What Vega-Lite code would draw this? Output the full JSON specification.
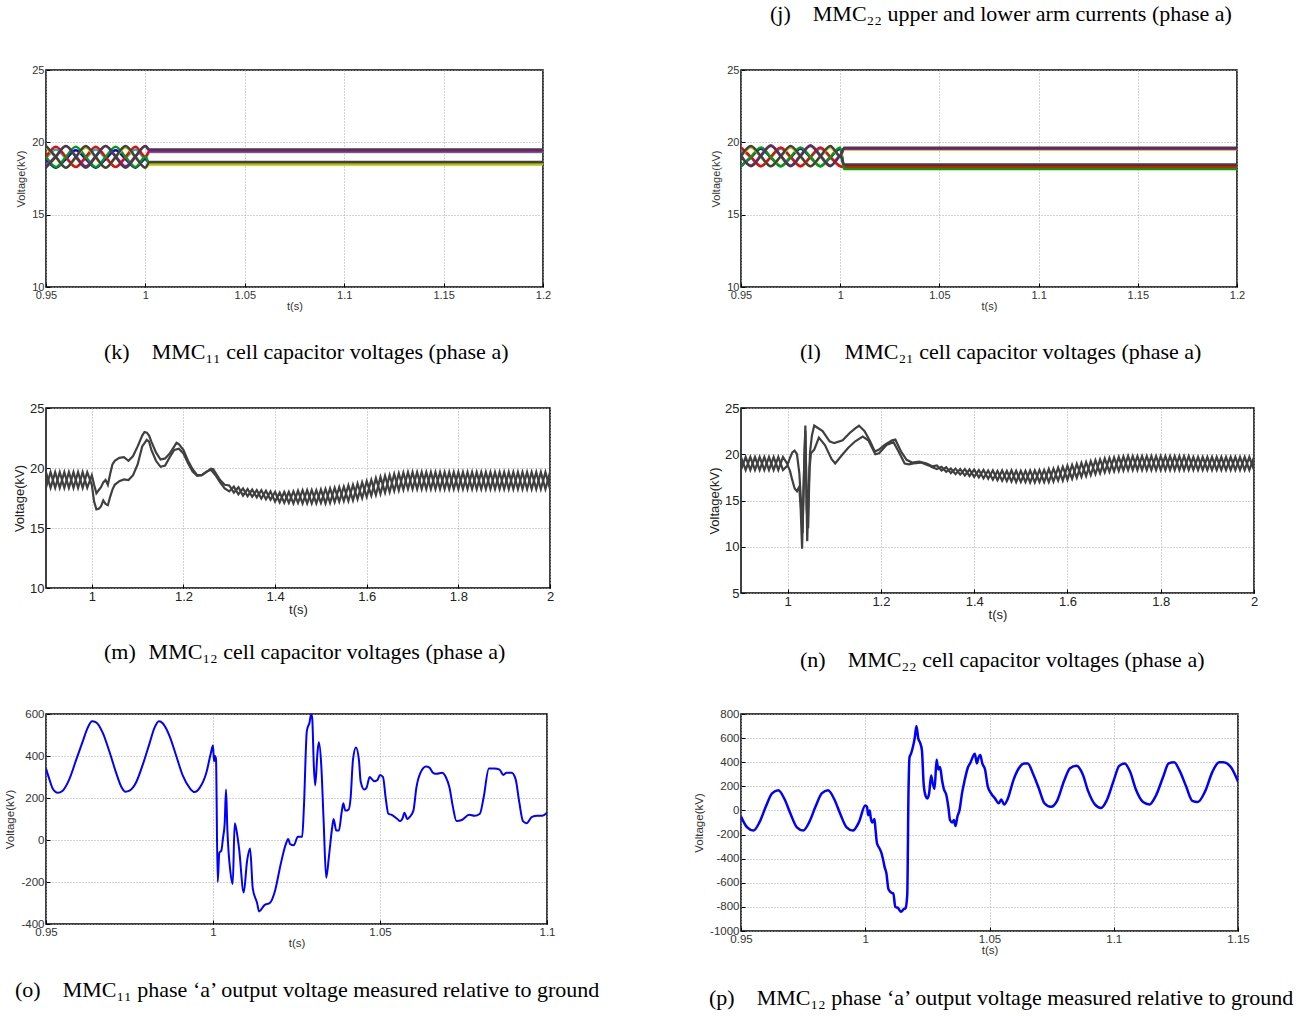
{
"$schema":"https://vega.github.io/schema/vega-lite/v6.json",
"autosize":{"type":"none"},
"padding":{"left":46,"top":70,"right":1268,"bottom":946},
"background":"white",
"title":{"text":"(j)\u2003MMC\u2082\u2082 upper and lower arm currents (phase a)","anchor":"start","frame":"group","dx":724,"offset":37},
"columns":2,
"spacing":{"row":121,"column":191},
"bounds":"flush",
"config":{
"locale":{"number":{"decimal":".","thousands":",","grouping":[3],"currency":["$",""],"minus":"-"}},
"view":{"stroke":"#000","strokeWidth":1.5},
"axis":{"domain":false,"ticks":true,"tickSize":-4,"tickColor":"#000","tickWidth":1,"grid":true,"gridColor":"#a8a8a8","gridDash":[1,2],"gridWidth":1,"labelFont":"Liberation Sans","labelFontSize":11,"labelColor":"#333","titleFont":"Liberation Sans","titleFontSize":11,"titleFontWeight":"normal","titleColor":"#333","labelFlush":false,"labelOverlap":false},
"axisX":{"labelPadding":6,"titlePadding":0},
"axisY":{"labelPadding":6,"titlePadding":5},
"title":{"font":"Liberation Serif","fontSize":22,"fontWeight":"normal","color":"#000"}
},
"datasets":{
"k":[
{"s":"c","t":0.95,"v":18.9},{"s":"c","t":0.955,"v":19.5},{"s":"c","t":0.96,"v":18.9},{"s":"c","t":0.965,"v":18.3},{"s":"c","t":0.97,"v":18.9},{"s":"c","t":0.975,"v":19.5},{"s":"c","t":0.98,"v":18.9},{"s":"c","t":0.985,"v":18.3},{"s":"c","t":0.99,"v":18.9},{"s":"c","t":0.995,"v":19.5},{"s":"c","t":1.0,"v":18.9},{"s":"c","t":1.002,"v":19.34},{"s":"c","t":1.2,"v":19.34},
{"s":"y","t":0.95,"v":18.85},{"s":"y","t":0.955,"v":18.25},{"s":"y","t":0.96,"v":18.85},{"s":"y","t":0.965,"v":19.45},{"s":"y","t":0.97,"v":18.85},{"s":"y","t":0.975,"v":18.25},{"s":"y","t":0.98,"v":18.85},{"s":"y","t":0.985,"v":19.45},{"s":"y","t":0.99,"v":18.85},{"s":"y","t":0.995,"v":18.25},{"s":"y","t":1.0,"v":18.85},{"s":"y","t":1.002,"v":18.56},{"s":"y","t":1.2,"v":18.56},
{"s":"r","t":0.95,"v":19.0},{"s":"r","t":0.955,"v":19.7},{"s":"r","t":0.96,"v":19.0},{"s":"r","t":0.965,"v":18.3},{"s":"r","t":0.97,"v":19.0},{"s":"r","t":0.975,"v":19.7},{"s":"r","t":0.98,"v":19.0},{"s":"r","t":0.985,"v":18.3},{"s":"r","t":0.99,"v":19.0},{"s":"r","t":0.995,"v":19.7},{"s":"r","t":1.0,"v":19.0},{"s":"r","t":1.002,"v":19.38},{"s":"r","t":1.2,"v":19.38},
{"s":"g","t":0.95,"v":19.0},{"s":"g","t":0.955,"v":18.3},{"s":"g","t":0.96,"v":19.0},{"s":"g","t":0.965,"v":19.7},{"s":"g","t":0.97,"v":19.0},{"s":"g","t":0.975,"v":18.3},{"s":"g","t":0.98,"v":19.0},{"s":"g","t":0.985,"v":19.7},{"s":"g","t":0.99,"v":19.0},{"s":"g","t":0.995,"v":18.3},{"s":"g","t":1.0,"v":19.0},{"s":"g","t":1.002,"v":18.52},{"s":"g","t":1.2,"v":18.52},
{"s":"b","t":0.95,"v":19.65},{"s":"b","t":0.955,"v":18.95},{"s":"b","t":0.96,"v":18.25},{"s":"b","t":0.965,"v":18.95},{"s":"b","t":0.97,"v":19.65},{"s":"b","t":0.975,"v":18.95},{"s":"b","t":0.98,"v":18.25},{"s":"b","t":0.985,"v":18.95},{"s":"b","t":0.99,"v":19.65},{"s":"b","t":0.995,"v":18.95},{"s":"b","t":1.0,"v":18.25},{"s":"b","t":1.002,"v":18.46},{"s":"b","t":1.2,"v":18.46},
{"s":"m","t":0.95,"v":18.35},{"s":"m","t":0.955,"v":19.05},{"s":"m","t":0.96,"v":19.75},{"s":"m","t":0.965,"v":19.05},{"s":"m","t":0.97,"v":18.35},{"s":"m","t":0.975,"v":19.05},{"s":"m","t":0.98,"v":19.75},{"s":"m","t":0.985,"v":19.05},{"s":"m","t":0.99,"v":18.35},{"s":"m","t":0.995,"v":19.05},{"s":"m","t":1.0,"v":19.75},{"s":"m","t":1.002,"v":19.42},{"s":"m","t":1.2,"v":19.42},
{"s":"d1","t":0.95,"v":19.75},{"s":"d1","t":0.955,"v":19.0},{"s":"d1","t":0.96,"v":18.25},{"s":"d1","t":0.965,"v":19.0},{"s":"d1","t":0.97,"v":19.75},{"s":"d1","t":0.975,"v":19.0},{"s":"d1","t":0.98,"v":18.25},{"s":"d1","t":0.985,"v":19.0},{"s":"d1","t":0.99,"v":19.75},{"s":"d1","t":0.995,"v":19.0},{"s":"d1","t":1.0,"v":18.25},{"s":"d1","t":1.002,"v":18.64},{"s":"d1","t":1.2,"v":18.64},
{"s":"d2","t":0.95,"v":18.25},{"s":"d2","t":0.955,"v":19.0},{"s":"d2","t":0.96,"v":19.75},{"s":"d2","t":0.965,"v":19.0},{"s":"d2","t":0.97,"v":18.25},{"s":"d2","t":0.975,"v":19.0},{"s":"d2","t":0.98,"v":19.75},{"s":"d2","t":0.985,"v":19.0},{"s":"d2","t":0.99,"v":18.25},{"s":"d2","t":0.995,"v":19.0},{"s":"d2","t":1.0,"v":19.75},{"s":"d2","t":1.002,"v":19.5},{"s":"d2","t":1.2,"v":19.5}
],
"l":[
{"s":"c","t":0.95,"v":19.55},{"s":"c","t":0.955,"v":18.95},{"s":"c","t":0.96,"v":18.35},{"s":"c","t":0.965,"v":18.95},{"s":"c","t":0.97,"v":19.55},{"s":"c","t":0.975,"v":18.95},{"s":"c","t":0.98,"v":18.35},{"s":"c","t":0.985,"v":18.95},{"s":"c","t":0.99,"v":19.55},{"s":"c","t":0.995,"v":18.95},{"s":"c","t":1.0,"v":18.35},{"s":"c","t":1.002,"v":18.25},{"s":"c","t":1.2,"v":18.25},
{"s":"y","t":0.95,"v":18.35},{"s":"y","t":0.955,"v":18.95},{"s":"y","t":0.96,"v":19.55},{"s":"y","t":0.965,"v":18.95},{"s":"y","t":0.97,"v":18.35},{"s":"y","t":0.975,"v":18.95},{"s":"y","t":0.98,"v":19.55},{"s":"y","t":0.985,"v":18.95},{"s":"y","t":0.99,"v":18.35},{"s":"y","t":0.995,"v":18.95},{"s":"y","t":1.0,"v":19.55},{"s":"y","t":1.002,"v":18.36},{"s":"y","t":1.2,"v":18.36},
{"s":"r","t":0.95,"v":19.65},{"s":"r","t":0.955,"v":19.0},{"s":"r","t":0.96,"v":18.35},{"s":"r","t":0.965,"v":19.0},{"s":"r","t":0.97,"v":19.65},{"s":"r","t":0.975,"v":19.0},{"s":"r","t":0.98,"v":18.35},{"s":"r","t":0.985,"v":19.0},{"s":"r","t":0.99,"v":19.65},{"s":"r","t":0.995,"v":19.0},{"s":"r","t":1.0,"v":18.35},{"s":"r","t":1.002,"v":18.31},{"s":"r","t":1.2,"v":18.31},
{"s":"g","t":0.95,"v":18.35},{"s":"g","t":0.955,"v":19.0},{"s":"g","t":0.96,"v":19.65},{"s":"g","t":0.965,"v":19.0},{"s":"g","t":0.97,"v":18.35},{"s":"g","t":0.975,"v":19.0},{"s":"g","t":0.98,"v":19.65},{"s":"g","t":0.985,"v":19.0},{"s":"g","t":0.99,"v":18.35},{"s":"g","t":0.995,"v":19.0},{"s":"g","t":1.0,"v":19.65},{"s":"g","t":1.002,"v":18.15},{"s":"g","t":1.2,"v":18.15},
{"s":"b","t":0.95,"v":19.0},{"s":"b","t":0.955,"v":19.65},{"s":"b","t":0.96,"v":19.0},{"s":"b","t":0.965,"v":18.35},{"s":"b","t":0.97,"v":19.0},{"s":"b","t":0.975,"v":19.65},{"s":"b","t":0.98,"v":19.0},{"s":"b","t":0.985,"v":18.35},{"s":"b","t":0.99,"v":19.0},{"s":"b","t":0.995,"v":19.65},{"s":"b","t":1.0,"v":19.0},{"s":"b","t":1.002,"v":19.5},{"s":"b","t":1.2,"v":19.5},
{"s":"m","t":0.95,"v":19.1},{"s":"m","t":0.955,"v":18.4},{"s":"m","t":0.96,"v":19.1},{"s":"m","t":0.965,"v":19.8},{"s":"m","t":0.97,"v":19.1},{"s":"m","t":0.975,"v":18.4},{"s":"m","t":0.98,"v":19.1},{"s":"m","t":0.985,"v":19.8},{"s":"m","t":0.99,"v":19.1},{"s":"m","t":0.995,"v":18.4},{"s":"m","t":1.0,"v":19.1},{"s":"m","t":1.002,"v":19.56},{"s":"m","t":1.2,"v":19.56},
{"s":"d1","t":0.95,"v":19.05},{"s":"d1","t":0.955,"v":18.35},{"s":"d1","t":0.96,"v":19.05},{"s":"d1","t":0.965,"v":19.75},{"s":"d1","t":0.97,"v":19.05},{"s":"d1","t":0.975,"v":18.35},{"s":"d1","t":0.98,"v":19.05},{"s":"d1","t":0.985,"v":19.75},{"s":"d1","t":0.99,"v":19.05},{"s":"d1","t":0.995,"v":18.35},{"s":"d1","t":1.0,"v":19.05},{"s":"d1","t":1.002,"v":18.47},{"s":"d1","t":1.2,"v":18.47},
{"s":"d2","t":0.95,"v":19.05},{"s":"d2","t":0.955,"v":19.75},{"s":"d2","t":0.96,"v":19.05},{"s":"d2","t":0.965,"v":18.35},{"s":"d2","t":0.97,"v":19.05},{"s":"d2","t":0.975,"v":19.75},{"s":"d2","t":0.98,"v":19.05},{"s":"d2","t":0.985,"v":18.35},{"s":"d2","t":0.99,"v":19.05},{"s":"d2","t":0.995,"v":19.75},{"s":"d2","t":1.0,"v":19.05},{"s":"d2","t":1.002,"v":19.62},{"s":"d2","t":1.2,"v":19.62}
],
"m":[
{"s":"A","t":0.9,"v":19.65},{"s":"A","t":0.91,"v":18.35},{"s":"A","t":0.92,"v":19.65},{"s":"A","t":0.93,"v":18.35},{"s":"A","t":0.94,"v":19.65},{"s":"A","t":0.95,"v":18.35},{"s":"A","t":0.96,"v":19.65},{"s":"A","t":0.97,"v":18.35},{"s":"A","t":0.98,"v":19.65},{"s":"A","t":0.99,"v":18.35},
{"s":"A","t":1.0,"v":19.4},{"s":"A","t":1.005,"v":18.6},{"s":"A","t":1.01,"v":17.9},{"s":"A","t":1.02,"v":18.4},{"s":"A","t":1.025,"v":18.8},{"s":"A","t":1.03,"v":19.0},{"s":"A","t":1.035,"v":18.6},{"s":"A","t":1.04,"v":19.5},{"s":"A","t":1.045,"v":20.3},{"s":"A","t":1.05,"v":20.6},{"s":"A","t":1.06,"v":20.85},{"s":"A","t":1.07,"v":20.9},{"s":"A","t":1.08,"v":20.6},{"s":"A","t":1.09,"v":21.0},{"s":"A","t":1.1,"v":21.8},{"s":"A","t":1.11,"v":22.7},{"s":"A","t":1.115,"v":23.0},{"s":"A","t":1.12,"v":22.95},{"s":"A","t":1.125,"v":22.7},{"s":"A","t":1.13,"v":22.2},{"s":"A","t":1.14,"v":21.3},{"s":"A","t":1.15,"v":20.7},{"s":"A","t":1.16,"v":20.8},{"s":"A","t":1.17,"v":21.2},{"s":"A","t":1.18,"v":21.8},{"s":"A","t":1.185,"v":22.1},{"s":"A","t":1.19,"v":22.0},{"s":"A","t":1.2,"v":21.5},{"s":"A","t":1.21,"v":20.6},{"s":"A","t":1.22,"v":19.9},{"s":"A","t":1.23,"v":19.4},{"s":"A","t":1.24,"v":19.4},{"s":"A","t":1.25,"v":19.65},{"s":"A","t":1.26,"v":19.95},{"s":"A","t":1.265,"v":19.9},{"s":"A","t":1.27,"v":19.6},{"s":"A","t":1.28,"v":19.0},{"s":"A","t":1.29,"v":18.6},
{"s":"A","t":1.3,"v":18.55},{"s":"A","t":1.31,"v":17.95},{"s":"A","t":1.32,"v":18.4},{"s":"A","t":1.33,"v":17.7},{"s":"A","t":1.34,"v":18.25},{"s":"A","t":1.35,"v":17.6},{"s":"A","t":1.36,"v":18.15},{"s":"A","t":1.37,"v":17.45},{"s":"A","t":1.38,"v":18.1},{"s":"A","t":1.39,"v":17.35},{"s":"A","t":1.4,"v":18.0},{"s":"A","t":1.41,"v":17.15},{"s":"A","t":1.42,"v":18.0},{"s":"A","t":1.43,"v":17.1},{"s":"A","t":1.44,"v":18.05},{"s":"A","t":1.45,"v":17.1},{"s":"A","t":1.46,"v":18.15},{"s":"A","t":1.47,"v":17.05},{"s":"A","t":1.48,"v":18.15},{"s":"A","t":1.49,"v":17.05},{"s":"A","t":1.5,"v":18.2},{"s":"A","t":1.51,"v":17.05},{"s":"A","t":1.52,"v":18.3},{"s":"A","t":1.53,"v":17.15},{"s":"A","t":1.54,"v":18.4},{"s":"A","t":1.55,"v":17.25},{"s":"A","t":1.56,"v":18.55},{"s":"A","t":1.57,"v":17.3},{"s":"A","t":1.58,"v":18.7},{"s":"A","t":1.59,"v":17.5},{"s":"A","t":1.6,"v":18.9},{"s":"A","t":1.61,"v":17.7},{"s":"A","t":1.62,"v":19.15},{"s":"A","t":1.63,"v":17.85},{"s":"A","t":1.64,"v":19.35},{"s":"A","t":1.65,"v":18.0},{"s":"A","t":1.66,"v":19.5},{"s":"A","t":1.67,"v":18.15},{"s":"A","t":1.68,"v":19.6},{"s":"A","t":1.69,"v":18.25},{"s":"A","t":1.7,"v":19.65},{"s":"A","t":1.71,"v":18.25},{"s":"A","t":1.72,"v":19.65},{"s":"A","t":1.73,"v":18.25},{"s":"A","t":1.74,"v":19.65},{"s":"A","t":1.75,"v":18.25},{"s":"A","t":1.76,"v":19.65},{"s":"A","t":1.77,"v":18.25},{"s":"A","t":1.78,"v":19.65},{"s":"A","t":1.79,"v":18.25},{"s":"A","t":1.8,"v":19.65},{"s":"A","t":1.81,"v":18.25},{"s":"A","t":1.82,"v":19.65},{"s":"A","t":1.83,"v":18.25},{"s":"A","t":1.84,"v":19.65},{"s":"A","t":1.85,"v":18.25},{"s":"A","t":1.86,"v":19.65},{"s":"A","t":1.87,"v":18.25},{"s":"A","t":1.88,"v":19.65},{"s":"A","t":1.89,"v":18.25},{"s":"A","t":1.9,"v":19.65},{"s":"A","t":1.91,"v":18.25},{"s":"A","t":1.92,"v":19.65},{"s":"A","t":1.93,"v":18.25},{"s":"A","t":1.94,"v":19.65},{"s":"A","t":1.95,"v":18.25},{"s":"A","t":1.96,"v":19.65},{"s":"A","t":1.97,"v":18.25},{"s":"A","t":1.98,"v":19.65},{"s":"A","t":1.99,"v":18.25},{"s":"A","t":2.0,"v":19.65},
{"s":"B","t":0.9,"v":18.35},{"s":"B","t":0.91,"v":19.65},{"s":"B","t":0.92,"v":18.35},{"s":"B","t":0.93,"v":19.65},{"s":"B","t":0.94,"v":18.35},{"s":"B","t":0.95,"v":19.65},{"s":"B","t":0.96,"v":18.35},{"s":"B","t":0.97,"v":19.65},{"s":"B","t":0.98,"v":18.35},{"s":"B","t":0.99,"v":19.65},
{"s":"B","t":1.0,"v":18.6},{"s":"B","t":1.005,"v":17.2},{"s":"B","t":1.01,"v":16.55},{"s":"B","t":1.015,"v":16.6},{"s":"B","t":1.02,"v":16.8},{"s":"B","t":1.025,"v":17.3},{"s":"B","t":1.03,"v":17.0},{"s":"B","t":1.035,"v":16.9},{"s":"B","t":1.04,"v":17.6},{"s":"B","t":1.045,"v":18.2},{"s":"B","t":1.05,"v":18.6},{"s":"B","t":1.06,"v":18.9},{"s":"B","t":1.07,"v":19.05},{"s":"B","t":1.08,"v":19.0},{"s":"B","t":1.09,"v":19.4},{"s":"B","t":1.1,"v":20.3},{"s":"B","t":1.11,"v":21.8},{"s":"B","t":1.12,"v":22.35},{"s":"B","t":1.125,"v":22.2},{"s":"B","t":1.13,"v":21.5},{"s":"B","t":1.14,"v":20.6},{"s":"B","t":1.15,"v":20.1},{"s":"B","t":1.16,"v":20.2},{"s":"B","t":1.17,"v":20.9},{"s":"B","t":1.18,"v":21.5},{"s":"B","t":1.19,"v":21.6},{"s":"B","t":1.2,"v":21.2},{"s":"B","t":1.21,"v":20.4},{"s":"B","t":1.22,"v":19.7},{"s":"B","t":1.23,"v":19.35},{"s":"B","t":1.24,"v":19.4},{"s":"B","t":1.25,"v":19.7},{"s":"B","t":1.26,"v":19.85},{"s":"B","t":1.27,"v":19.4},{"s":"B","t":1.28,"v":18.8},{"s":"B","t":1.29,"v":18.3},
{"s":"B","t":1.3,"v":18.05},{"s":"B","t":1.31,"v":18.45},{"s":"B","t":1.32,"v":17.8},{"s":"B","t":1.33,"v":18.3},{"s":"B","t":1.34,"v":17.65},{"s":"B","t":1.35,"v":18.2},{"s":"B","t":1.36,"v":17.55},{"s":"B","t":1.37,"v":18.15},{"s":"B","t":1.38,"v":17.4},{"s":"B","t":1.39,"v":18.05},{"s":"B","t":1.4,"v":17.2},{"s":"B","t":1.41,"v":17.95},{"s":"B","t":1.42,"v":17.1},{"s":"B","t":1.43,"v":18.0},{"s":"B","t":1.44,"v":17.05},{"s":"B","t":1.45,"v":18.1},{"s":"B","t":1.46,"v":17.05},{"s":"B","t":1.47,"v":18.15},{"s":"B","t":1.48,"v":17.05},{"s":"B","t":1.49,"v":18.15},{"s":"B","t":1.5,"v":17.1},{"s":"B","t":1.51,"v":18.25},{"s":"B","t":1.52,"v":17.1},{"s":"B","t":1.53,"v":18.35},{"s":"B","t":1.54,"v":17.2},{"s":"B","t":1.55,"v":18.45},{"s":"B","t":1.56,"v":17.25},{"s":"B","t":1.57,"v":18.6},{"s":"B","t":1.58,"v":17.4},{"s":"B","t":1.59,"v":18.8},{"s":"B","t":1.6,"v":17.6},{"s":"B","t":1.61,"v":19.0},{"s":"B","t":1.62,"v":17.75},{"s":"B","t":1.63,"v":19.25},{"s":"B","t":1.64,"v":17.95},{"s":"B","t":1.65,"v":19.4},{"s":"B","t":1.66,"v":18.1},{"s":"B","t":1.67,"v":19.55},{"s":"B","t":1.68,"v":18.2},{"s":"B","t":1.69,"v":19.65},{"s":"B","t":1.7,"v":18.25},{"s":"B","t":1.71,"v":19.65},{"s":"B","t":1.72,"v":18.25},{"s":"B","t":1.73,"v":19.65},{"s":"B","t":1.74,"v":18.25},{"s":"B","t":1.75,"v":19.65},{"s":"B","t":1.76,"v":18.25},{"s":"B","t":1.77,"v":19.65},{"s":"B","t":1.78,"v":18.25},{"s":"B","t":1.79,"v":19.65},{"s":"B","t":1.8,"v":18.25},{"s":"B","t":1.81,"v":19.65},{"s":"B","t":1.82,"v":18.25},{"s":"B","t":1.83,"v":19.65},{"s":"B","t":1.84,"v":18.25},{"s":"B","t":1.85,"v":19.65},{"s":"B","t":1.86,"v":18.25},{"s":"B","t":1.87,"v":19.65},{"s":"B","t":1.88,"v":18.25},{"s":"B","t":1.89,"v":19.65},{"s":"B","t":1.9,"v":18.25},{"s":"B","t":1.91,"v":19.65},{"s":"B","t":1.92,"v":18.25},{"s":"B","t":1.93,"v":19.65},{"s":"B","t":1.94,"v":18.25},{"s":"B","t":1.95,"v":19.65},{"s":"B","t":1.96,"v":18.25},{"s":"B","t":1.97,"v":19.65},{"s":"B","t":1.98,"v":18.25},{"s":"B","t":1.99,"v":19.65},{"s":"B","t":2.0,"v":18.25}
],
"n":[
{"s":"A","t":0.9,"v":19.7},{"s":"A","t":0.91,"v":18.3},{"s":"A","t":0.92,"v":19.7},{"s":"A","t":0.93,"v":18.3},{"s":"A","t":0.94,"v":19.7},{"s":"A","t":0.95,"v":18.3},{"s":"A","t":0.96,"v":19.7},{"s":"A","t":0.97,"v":18.3},{"s":"A","t":0.98,"v":19.7},{"s":"A","t":0.99,"v":18.3},
{"s":"A","t":1.0,"v":18.8},{"s":"A","t":1.005,"v":18.2},{"s":"A","t":1.01,"v":17.2},{"s":"A","t":1.015,"v":16.3},{"s":"A","t":1.02,"v":16.0},{"s":"A","t":1.025,"v":16.5},{"s":"A","t":1.028,"v":14.0},{"s":"A","t":1.031,"v":9.8},{"s":"A","t":1.034,"v":16.0},{"s":"A","t":1.038,"v":23.1},{"s":"A","t":1.04,"v":17.0},{"s":"A","t":1.042,"v":10.6},{"s":"A","t":1.045,"v":16.0},{"s":"A","t":1.048,"v":20.2},{"s":"A","t":1.052,"v":22.0},{"s":"A","t":1.057,"v":23.1},{"s":"A","t":1.06,"v":23.0},{"s":"A","t":1.075,"v":22.5},{"s":"A","t":1.09,"v":21.4},{"s":"A","t":1.1,"v":21.2},{"s":"A","t":1.118,"v":21.5},{"s":"A","t":1.133,"v":22.3},{"s":"A","t":1.145,"v":22.8},{"s":"A","t":1.153,"v":23.1},{"s":"A","t":1.165,"v":22.5},{"s":"A","t":1.176,"v":21.5},{"s":"A","t":1.187,"v":20.3},{"s":"A","t":1.196,"v":20.5},{"s":"A","t":1.208,"v":21.0},{"s":"A","t":1.224,"v":21.5},{"s":"A","t":1.231,"v":21.6},{"s":"A","t":1.243,"v":20.3},{"s":"A","t":1.255,"v":19.4},{"s":"A","t":1.267,"v":19.1},{"s":"A","t":1.282,"v":19.2},{"s":"A","t":1.298,"v":19.0},{"s":"A","t":1.31,"v":18.7},
{"s":"A","t":1.32,"v":18.8},{"s":"A","t":1.33,"v":18.25},{"s":"A","t":1.34,"v":18.6},{"s":"A","t":1.35,"v":17.95},{"s":"A","t":1.36,"v":18.45},{"s":"A","t":1.37,"v":17.8},{"s":"A","t":1.38,"v":18.4},{"s":"A","t":1.39,"v":17.65},{"s":"A","t":1.4,"v":18.35},{"s":"A","t":1.41,"v":17.5},{"s":"A","t":1.42,"v":18.3},{"s":"A","t":1.43,"v":17.35},{"s":"A","t":1.44,"v":18.25},{"s":"A","t":1.45,"v":17.2},{"s":"A","t":1.46,"v":18.25},{"s":"A","t":1.47,"v":17.1},{"s":"A","t":1.48,"v":18.25},{"s":"A","t":1.49,"v":17.0},{"s":"A","t":1.5,"v":18.2},{"s":"A","t":1.51,"v":17.0},{"s":"A","t":1.52,"v":18.25},{"s":"A","t":1.53,"v":16.95},{"s":"A","t":1.54,"v":18.3},{"s":"A","t":1.55,"v":17.0},{"s":"A","t":1.56,"v":18.4},{"s":"A","t":1.57,"v":17.05},{"s":"A","t":1.58,"v":18.55},{"s":"A","t":1.59,"v":17.15},{"s":"A","t":1.6,"v":18.75},{"s":"A","t":1.61,"v":17.35},{"s":"A","t":1.62,"v":18.95},{"s":"A","t":1.63,"v":17.55},{"s":"A","t":1.64,"v":19.15},{"s":"A","t":1.65,"v":17.75},{"s":"A","t":1.66,"v":19.35},{"s":"A","t":1.67,"v":17.95},{"s":"A","t":1.68,"v":19.55},{"s":"A","t":1.69,"v":18.1},{"s":"A","t":1.7,"v":19.65},{"s":"A","t":1.71,"v":18.2},{"s":"A","t":1.72,"v":19.75},{"s":"A","t":1.73,"v":18.3},{"s":"A","t":1.74,"v":19.8},{"s":"A","t":1.75,"v":18.3},{"s":"A","t":1.76,"v":19.8},{"s":"A","t":1.77,"v":18.3},{"s":"A","t":1.78,"v":19.8},{"s":"A","t":1.79,"v":18.3},{"s":"A","t":1.8,"v":19.8},{"s":"A","t":1.81,"v":18.3},{"s":"A","t":1.82,"v":19.8},{"s":"A","t":1.83,"v":18.3},{"s":"A","t":1.84,"v":19.8},{"s":"A","t":1.85,"v":18.3},{"s":"A","t":1.86,"v":19.8},{"s":"A","t":1.87,"v":18.3},{"s":"A","t":1.88,"v":19.7},{"s":"A","t":1.89,"v":18.3},{"s":"A","t":1.9,"v":19.7},{"s":"A","t":1.91,"v":18.3},{"s":"A","t":1.92,"v":19.7},{"s":"A","t":1.93,"v":18.3},{"s":"A","t":1.94,"v":19.7},{"s":"A","t":1.95,"v":18.3},{"s":"A","t":1.96,"v":19.7},{"s":"A","t":1.97,"v":18.3},{"s":"A","t":1.98,"v":19.7},{"s":"A","t":1.99,"v":18.3},{"s":"A","t":2.0,"v":19.7},
{"s":"B","t":0.9,"v":18.3},{"s":"B","t":0.91,"v":19.7},{"s":"B","t":0.92,"v":18.3},{"s":"B","t":0.93,"v":19.7},{"s":"B","t":0.94,"v":18.3},{"s":"B","t":0.95,"v":19.7},{"s":"B","t":0.96,"v":18.3},{"s":"B","t":0.97,"v":19.7},{"s":"B","t":0.98,"v":18.3},{"s":"B","t":0.99,"v":19.7},
{"s":"B","t":1.0,"v":18.9},{"s":"B","t":1.005,"v":19.6},{"s":"B","t":1.01,"v":20.2},{"s":"B","t":1.015,"v":20.4},{"s":"B","t":1.02,"v":20.0},{"s":"B","t":1.025,"v":18.0},{"s":"B","t":1.028,"v":15.5},{"s":"B","t":1.032,"v":11.5},{"s":"B","t":1.036,"v":20.0},{"s":"B","t":1.038,"v":22.5},{"s":"B","t":1.041,"v":14.0},{"s":"B","t":1.044,"v":12.0},{"s":"B","t":1.047,"v":18.5},{"s":"B","t":1.05,"v":20.1},{"s":"B","t":1.057,"v":20.5},{"s":"B","t":1.067,"v":21.8},{"s":"B","t":1.08,"v":21.0},{"s":"B","t":1.094,"v":19.5},{"s":"B","t":1.102,"v":19.0},{"s":"B","t":1.118,"v":20.0},{"s":"B","t":1.13,"v":20.7},{"s":"B","t":1.145,"v":21.4},{"s":"B","t":1.161,"v":21.9},{"s":"B","t":1.173,"v":21.5},{"s":"B","t":1.188,"v":20.0},{"s":"B","t":1.196,"v":20.1},{"s":"B","t":1.212,"v":21.0},{"s":"B","t":1.227,"v":21.3},{"s":"B","t":1.239,"v":20.2},{"s":"B","t":1.251,"v":19.0},{"s":"B","t":1.26,"v":18.9},{"s":"B","t":1.27,"v":19.0},{"s":"B","t":1.286,"v":19.1},{"s":"B","t":1.302,"v":18.8},{"s":"B","t":1.31,"v":18.6},
{"s":"B","t":1.32,"v":18.4},{"s":"B","t":1.33,"v":18.65},{"s":"B","t":1.34,"v":18.1},{"s":"B","t":1.35,"v":18.45},{"s":"B","t":1.36,"v":17.85},{"s":"B","t":1.37,"v":18.4},{"s":"B","t":1.38,"v":17.7},{"s":"B","t":1.39,"v":18.35},{"s":"B","t":1.4,"v":17.55},{"s":"B","t":1.41,"v":18.3},{"s":"B","t":1.42,"v":17.4},{"s":"B","t":1.43,"v":18.25},{"s":"B","t":1.44,"v":17.25},{"s":"B","t":1.45,"v":18.2},{"s":"B","t":1.46,"v":17.15},{"s":"B","t":1.47,"v":18.2},{"s":"B","t":1.48,"v":17.05},{"s":"B","t":1.49,"v":18.2},{"s":"B","t":1.5,"v":17.0},{"s":"B","t":1.51,"v":18.2},{"s":"B","t":1.52,"v":16.95},{"s":"B","t":1.53,"v":18.25},{"s":"B","t":1.54,"v":17.0},{"s":"B","t":1.55,"v":18.3},{"s":"B","t":1.56,"v":17.0},{"s":"B","t":1.57,"v":18.45},{"s":"B","t":1.58,"v":17.15},{"s":"B","t":1.59,"v":18.65},{"s":"B","t":1.6,"v":17.25},{"s":"B","t":1.61,"v":18.85},{"s":"B","t":1.62,"v":17.45},{"s":"B","t":1.63,"v":19.05},{"s":"B","t":1.64,"v":17.65},{"s":"B","t":1.65,"v":19.25},{"s":"B","t":1.66,"v":17.85},{"s":"B","t":1.67,"v":19.45},{"s":"B","t":1.68,"v":18.05},{"s":"B","t":1.69,"v":19.6},{"s":"B","t":1.7,"v":18.15},{"s":"B","t":1.71,"v":19.7},{"s":"B","t":1.72,"v":18.25},{"s":"B","t":1.73,"v":19.8},{"s":"B","t":1.74,"v":18.3},{"s":"B","t":1.75,"v":19.8},{"s":"B","t":1.76,"v":18.3},{"s":"B","t":1.77,"v":19.8},{"s":"B","t":1.78,"v":18.3},{"s":"B","t":1.79,"v":19.8},{"s":"B","t":1.8,"v":18.3},{"s":"B","t":1.81,"v":19.8},{"s":"B","t":1.82,"v":18.3},{"s":"B","t":1.83,"v":19.8},{"s":"B","t":1.84,"v":18.3},{"s":"B","t":1.85,"v":19.8},{"s":"B","t":1.86,"v":18.3},{"s":"B","t":1.87,"v":19.7},{"s":"B","t":1.88,"v":18.3},{"s":"B","t":1.89,"v":19.7},{"s":"B","t":1.9,"v":18.3},{"s":"B","t":1.91,"v":19.7},{"s":"B","t":1.92,"v":18.3},{"s":"B","t":1.93,"v":19.7},{"s":"B","t":1.94,"v":18.3},{"s":"B","t":1.95,"v":19.7},{"s":"B","t":1.96,"v":18.3},{"s":"B","t":1.97,"v":19.7},{"s":"B","t":1.98,"v":18.3},{"s":"B","t":1.99,"v":19.7},{"s":"B","t":2.0,"v":18.3}
],
"o":[
{"t":0.95,"v":340},{"t":0.951,"v":290},{"t":0.952,"v":245},{"t":0.9535,"v":225},{"t":0.955,"v":235},{"t":0.957,"v":290},{"t":0.959,"v":380},{"t":0.961,"v":470},{"t":0.9625,"v":535},{"t":0.9638,"v":565},{"t":0.965,"v":560},{"t":0.967,"v":510},{"t":0.969,"v":420},{"t":0.971,"v":320},{"t":0.9725,"v":255},{"t":0.9738,"v":230},{"t":0.975,"v":235},{"t":0.977,"v":275},{"t":0.979,"v":360},{"t":0.981,"v":460},{"t":0.9825,"v":535},{"t":0.9838,"v":565},{"t":0.985,"v":555},{"t":0.987,"v":495},{"t":0.989,"v":400},{"t":0.991,"v":305},{"t":0.993,"v":248},{"t":0.9945,"v":228},{"t":0.996,"v":248},{"t":0.998,"v":320},{"t":0.9993,"v":410},{"t":1.0,"v":450},{"t":1.0003,"v":375},{"t":1.0006,"v":400},{"t":1.0009,"v":385},{"t":1.0014,"v":-200},{"t":1.0019,"v":-60},{"t":1.0025,"v":-50},{"t":1.003,"v":10},{"t":1.0035,"v":80},{"t":1.0039,"v":240},{"t":1.0043,"v":50},{"t":1.0052,"v":-150},{"t":1.0059,"v":-210},{"t":1.0065,"v":80},{"t":1.0071,"v":40},{"t":1.0078,"v":-40},{"t":1.0092,"v":-250},{"t":1.0102,"v":-100},{"t":1.0111,"v":-40},{"t":1.0119,"v":-230},{"t":1.0132,"v":-300},{"t":1.0138,"v":-340},{"t":1.0154,"v":-310},{"t":1.017,"v":-300},{"t":1.0186,"v":-240},{"t":1.0202,"v":-120},{"t":1.0218,"v":-20},{"t":1.0225,"v":5},{"t":1.0231,"v":-20},{"t":1.0242,"v":-25},{"t":1.0254,"v":15},{"t":1.0267,"v":15},{"t":1.0272,"v":150},{"t":1.0281,"v":520},{"t":1.0289,"v":560},{"t":1.0294,"v":600},{"t":1.0297,"v":580},{"t":1.0302,"v":350},{"t":1.0306,"v":260},{"t":1.0313,"v":420},{"t":1.0317,"v":465},{"t":1.0324,"v":360},{"t":1.0331,"v":100},{"t":1.0339,"v":-180},{"t":1.0347,"v":-80},{"t":1.0356,"v":50},{"t":1.0361,"v":100},{"t":1.0369,"v":45},{"t":1.0377,"v":45},{"t":1.0385,"v":130},{"t":1.039,"v":175},{"t":1.0396,"v":140},{"t":1.0406,"v":145},{"t":1.0412,"v":200},{"t":1.0419,"v":380},{"t":1.0428,"v":440},{"t":1.0437,"v":380},{"t":1.0442,"v":280},{"t":1.0453,"v":240},{"t":1.046,"v":250},{"t":1.0469,"v":300},{"t":1.0476,"v":290},{"t":1.0482,"v":280},{"t":1.0492,"v":285},{"t":1.05,"v":310},{"t":1.0509,"v":300},{"t":1.0517,"v":200},{"t":1.0525,"v":125},{"t":1.0535,"v":120},{"t":1.0552,"v":100},{"t":1.056,"v":90},{"t":1.0568,"v":105},{"t":1.0573,"v":130},{"t":1.0582,"v":100},{"t":1.0589,"v":110},{"t":1.06,"v":140},{"t":1.0609,"v":250},{"t":1.0621,"v":320},{"t":1.0638,"v":350},{"t":1.0648,"v":345},{"t":1.0659,"v":320},{"t":1.067,"v":315},{"t":1.0686,"v":320},{"t":1.0697,"v":300},{"t":1.0708,"v":250},{"t":1.0718,"v":160},{"t":1.0729,"v":90},{"t":1.0745,"v":95},{"t":1.0767,"v":120},{"t":1.0783,"v":115},{"t":1.0799,"v":125},{"t":1.081,"v":200},{"t":1.0826,"v":340},{"t":1.0842,"v":340},{"t":1.0858,"v":335},{"t":1.0869,"v":310},{"t":1.0879,"v":320},{"t":1.0894,"v":320},{"t":1.0906,"v":290},{"t":1.0917,"v":180},{"t":1.0928,"v":90},{"t":1.0939,"v":80},{"t":1.0955,"v":110},{"t":1.0971,"v":115},{"t":1.0986,"v":115},{"t":1.1,"v":130}
],
"p":[
{"t":0.95,"v":-50},{"t":0.9525,"v":-141},{"t":0.955,"v":-167},{"t":0.9575,"v":-95},{"t":0.96,"v":32},{"t":0.9625,"v":141},{"t":0.965,"v":167},{"t":0.9675,"v":95},{"t":0.97,"v":-32},{"t":0.9725,"v":-141},{"t":0.975,"v":-167},{"t":0.9775,"v":-95},{"t":0.98,"v":32},{"t":0.9825,"v":141},{"t":0.985,"v":167},{"t":0.9875,"v":95},{"t":0.99,"v":-32},{"t":0.9925,"v":-141},{"t":0.995,"v":-167},{"t":0.9975,"v":-95},{"t":1.0,"v":40},{"t":1.0007,"v":30},{"t":1.0012,"v":-40},{"t":1.0018,"v":0},{"t":1.0022,"v":-60},{"t":1.0029,"v":-100},{"t":1.0037,"v":-70},{"t":1.0041,"v":-150},{"t":1.0047,"v":-270},{"t":1.0056,"v":-310},{"t":1.0063,"v":-340},{"t":1.0071,"v":-400},{"t":1.0078,"v":-470},{"t":1.0085,"v":-520},{"t":1.0093,"v":-650},{"t":1.0103,"v":-680},{"t":1.0113,"v":-690},{"t":1.0121,"v":-800},{"t":1.0132,"v":-810},{"t":1.0144,"v":-840},{"t":1.0154,"v":-820},{"t":1.0162,"v":-810},{"t":1.0169,"v":-700},{"t":1.0174,"v":150},{"t":1.0178,"v":440},{"t":1.0184,"v":470},{"t":1.0191,"v":520},{"t":1.0199,"v":600},{"t":1.0206,"v":700},{"t":1.0213,"v":600},{"t":1.0221,"v":560},{"t":1.0228,"v":500},{"t":1.0235,"v":220},{"t":1.0243,"v":120},{"t":1.025,"v":100},{"t":1.0257,"v":140},{"t":1.0265,"v":290},{"t":1.0272,"v":220},{"t":1.0279,"v":180},{"t":1.0287,"v":420},{"t":1.0294,"v":340},{"t":1.0301,"v":360},{"t":1.0309,"v":250},{"t":1.0316,"v":180},{"t":1.0326,"v":130},{"t":1.0335,"v":20},{"t":1.0341,"v":-80},{"t":1.035,"v":-100},{"t":1.0357,"v":-80},{"t":1.0363,"v":-130},{"t":1.0371,"v":-50},{"t":1.0379,"v":0},{"t":1.039,"v":150},{"t":1.04,"v":250},{"t":1.0412,"v":350},{"t":1.0424,"v":400},{"t":1.0434,"v":450},{"t":1.0441,"v":470},{"t":1.0449,"v":390},{"t":1.0456,"v":440},{"t":1.0463,"v":460},{"t":1.0471,"v":390},{"t":1.0482,"v":340},{"t":1.0493,"v":200},{"t":1.0507,"v":140},{"t":1.0522,"v":100},{"t":1.0537,"v":60},{"t":1.0547,"v":90},{"t":1.0559,"v":50},{"t":1.0574,"v":100},{"t":1.0596,"v":250},{"t":1.0618,"v":350},{"t":1.064,"v":390},{"t":1.0654,"v":390},{"t":1.0676,"v":300},{"t":1.0699,"v":180},{"t":1.0721,"v":60},{"t":1.0747,"v":30},{"t":1.0772,"v":80},{"t":1.0801,"v":250},{"t":1.0824,"v":350},{"t":1.085,"v":370},{"t":1.0875,"v":300},{"t":1.0897,"v":160},{"t":1.0924,"v":50},{"t":1.0949,"v":20},{"t":1.0971,"v":80},{"t":1.1,"v":250},{"t":1.1022,"v":370},{"t":1.1044,"v":390},{"t":1.1066,"v":320},{"t":1.1088,"v":180},{"t":1.1118,"v":70},{"t":1.1144,"v":50},{"t":1.1169,"v":120},{"t":1.1199,"v":280},{"t":1.1221,"v":390},{"t":1.1243,"v":400},{"t":1.1265,"v":330},{"t":1.1291,"v":200},{"t":1.1316,"v":80},{"t":1.1338,"v":70},{"t":1.1368,"v":160},{"t":1.1397,"v":320},{"t":1.1424,"v":400},{"t":1.1441,"v":400},{"t":1.1471,"v":360},{"t":1.15,"v":240}
]
},
"concat":[
{"width":497,"height":217,"data":{"name":"k"},
"title":{"text":"(k)\u2003MMC\u2081\u2081 cell capacitor voltages (phase a)","orient":"bottom","anchor":"start","frame":"group","dx":58,"offset":31,"baseline":"top"},
"mark":{"type":"line","interpolate":"monotone","strokeWidth":2.5,"clip":true},
"encoding":{
"x":{"field":"t","type":"quantitative","scale":{"domain":[0.95,1.2],"nice":false,"zero":false},"axis":{"values":[0.95,1,1.05,1.1,1.15,1.2],"format":"~g","title":"t(s)"}},
"y":{"field":"v","type":"quantitative","scale":{"domain":[10,25],"nice":false,"zero":false},"axis":{"values":[10,15,20,25],"title":"Voltage(kV)"}},
"color":{"field":"s","type":"nominal","scale":{"domain":["c","y","r","g","b","m","d1","d2"],"range":["#00bfbf","#0000ff","#ff0000","#00a000","#bfbf00","#bf00bf","#404040","#404040"]},"legend":null}}},
{"width":496,"height":217,"data":{"name":"l"},
"title":{"text":"(l)\u2003\u200aMMC\u2082\u2081 cell capacitor voltages (phase a)","orient":"bottom","anchor":"start","frame":"group","dx":59,"offset":31,"baseline":"top"},
"mark":{"type":"line","interpolate":"monotone","strokeWidth":2.5,"clip":true},
"encoding":{
"x":{"field":"t","type":"quantitative","scale":{"domain":[0.95,1.2],"nice":false,"zero":false},"axis":{"values":[0.95,1,1.05,1.1,1.15,1.2],"format":"~g","title":"t(s)"}},
"y":{"field":"v","type":"quantitative","scale":{"domain":[10,25],"nice":false,"zero":false},"axis":{"values":[10,15,20,25],"title":"Voltage(kV)"}},
"color":{"field":"s","type":"nominal","scale":{"domain":["c","y","r","g","b","m","d1","d2"],"range":["#00a000","#bfbf00","#ff0000","#00bfbf","#5080ff","#bf00bf","#404040","#404040"]},"legend":null}}},
{"width":504,"height":180,"data":{"name":"m"},
"title":{"text":"(m)\u2002\u200aMMC\u2081\u2082 cell capacitor voltages (phase a)","orient":"bottom","anchor":"start","frame":"group","dx":58,"offset":26,"baseline":"top"},
"mark":{"type":"line","strokeWidth":2.2,"color":"#404040","clip":true},
"encoding":{
"x":{"field":"t","type":"quantitative","scale":{"domain":[0.9,2],"nice":false,"zero":false},"axis":{"values":[1,1.2,1.4,1.6,1.8,2],"format":"~g","title":"t(s)","labelFontSize":13,"titleFontSize":13,"labelColor":"#222","titleColor":"#222"}},
"y":{"field":"v","type":"quantitative","scale":{"domain":[10,25],"nice":false,"zero":false},"axis":{"values":[10,15,20,25],"title":"Voltage(kV)","labelFontSize":13,"titleFontSize":13,"labelColor":"#222","titleColor":"#222","titlePadding":3}},
"detail":{"field":"s","type":"nominal"}}},
{"width":513,"height":185,"data":{"name":"n"},
"title":{"text":"(n)\u2003MMC\u2082\u2082 cell capacitor voltages (phase a)","orient":"bottom","anchor":"start","frame":"group","dx":59,"offset":29,"baseline":"top"},
"mark":{"type":"line","strokeWidth":2.2,"color":"#404040","clip":true},
"encoding":{
"x":{"field":"t","type":"quantitative","scale":{"domain":[0.9,2],"nice":false,"zero":false},"axis":{"values":[1,1.2,1.4,1.6,1.8,2],"format":"~g","title":"t(s)","labelFontSize":13,"titleFontSize":13,"labelColor":"#222","titleColor":"#222"}},
"y":{"field":"v","type":"quantitative","scale":{"domain":[5,25],"nice":false,"zero":false},"axis":{"values":[5,10,15,20,25],"title":"Voltage(kV)","labelFontSize":13,"titleFontSize":13,"labelColor":"#222","titleColor":"#222","titlePadding":3}},
"detail":{"field":"s","type":"nominal"}}},
{"width":501,"height":210,"data":{"name":"o"},
"title":{"text":"(o)\u2003MMC\u2081\u2081 phase \u2018a\u2019 output voltage measured relative to ground","orient":"bottom","anchor":"start","frame":"group","dx":-31,"offset":31,"baseline":"top"},
"mark":{"type":"line","interpolate":"monotone","strokeWidth":2,"color":"#0000ff","clip":true},
"encoding":{
"x":{"field":"t","type":"quantitative","scale":{"domain":[0.95,1.1],"nice":false,"zero":false},"axis":{"values":[0.95,1,1.05,1.1],"format":"~g","title":"t(s)","labelFontSize":11.5,"titleFontSize":11.5}},
"y":{"field":"v","type":"quantitative","scale":{"domain":[-400,600],"nice":false,"zero":false},"axis":{"values":[-400,-200,0,200,400,600],"format":"d","title":"Voltage(kV)","labelFontSize":11.5,"titleFontSize":11.5}}}},
{"width":497,"height":217,"data":{"name":"p"},
"title":{"text":"(p)\u2003MMC\u2081\u2082 phase \u2018a\u2019 output voltage measured relative to ground","orient":"bottom","anchor":"start","frame":"group","dx":-32,"offset":32,"baseline":"top"},
"mark":{"type":"line","interpolate":"monotone","strokeWidth":2.5,"color":"#0000ff","clip":true},
"encoding":{
"x":{"field":"t","type":"quantitative","scale":{"domain":[0.95,1.15],"nice":false,"zero":false},"axis":{"values":[0.95,1,1.05,1.1,1.15],"format":"~g","title":"t(s)","labelFontSize":11.5,"titleFontSize":11.5}},
"y":{"field":"v","type":"quantitative","scale":{"domain":[-1000,800],"nice":false,"zero":false},"axis":{"values":[-1000,-800,-600,-400,-200,0,200,400,600,800],"format":"d","title":"Voltage(kV)","labelFontSize":11.5,"titleFontSize":11.5}}}}
]
}
